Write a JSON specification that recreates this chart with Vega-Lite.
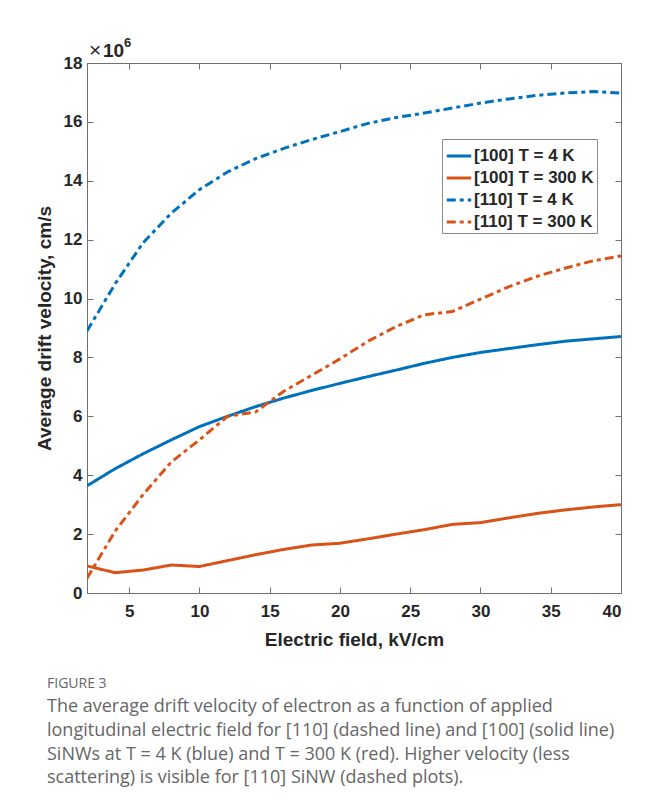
{
  "$schema": "https://vega.github.io/schema/vega-lite/v6.json",
  "width": 534,
  "height": 530,
  "autosize": "none",
  "padding": {"left": 87, "top": 63, "right": 37, "bottom": 216},
  "background": "white",
  "config": {"view": {"stroke": null}, "font": "Liberation Sans"},
  "title": {
    "text": "FIGURE 3",
    "subtitle": [
      "The average drift velocity of electron as a function of applied",
      "longitudinal electric field for [110] (dashed line) and [100] (solid line)",
      "SiNWs at T = 4 K (blue) and T = 300 K (red). Higher velocity (less",
      "scattering) is visible for [110] SiNW (dashed plots)."
    ],
    "orient": "bottom",
    "anchor": "start",
    "frame": "group",
    "dx": -40,
    "offset": 28,
    "font": "Open Sans",
    "fontSize": 14,
    "fontWeight": "normal",
    "color": "#666666",
    "subtitleFont": "Open Sans",
    "subtitleFontSize": 18,
    "subtitleColor": "#666666",
    "subtitleLineHeight": 23.8,
    "subtitlePadding": 7
  },
  "data": {
    "values": [
      {"E": 2, "v": 3.64, "s": "[100] T = 4 K"},
      {"E": 4, "v": 4.22, "s": "[100] T = 4 K"},
      {"E": 6, "v": 4.73, "s": "[100] T = 4 K"},
      {"E": 8, "v": 5.2, "s": "[100] T = 4 K"},
      {"E": 10, "v": 5.65, "s": "[100] T = 4 K"},
      {"E": 12, "v": 6.0, "s": "[100] T = 4 K"},
      {"E": 14, "v": 6.33, "s": "[100] T = 4 K"},
      {"E": 16, "v": 6.62, "s": "[100] T = 4 K"},
      {"E": 18, "v": 6.88, "s": "[100] T = 4 K"},
      {"E": 20, "v": 7.12, "s": "[100] T = 4 K"},
      {"E": 22, "v": 7.35, "s": "[100] T = 4 K"},
      {"E": 24, "v": 7.57, "s": "[100] T = 4 K"},
      {"E": 26, "v": 7.8, "s": "[100] T = 4 K"},
      {"E": 28, "v": 8.0, "s": "[100] T = 4 K"},
      {"E": 30, "v": 8.17, "s": "[100] T = 4 K"},
      {"E": 32, "v": 8.3, "s": "[100] T = 4 K"},
      {"E": 34, "v": 8.43, "s": "[100] T = 4 K"},
      {"E": 36, "v": 8.55, "s": "[100] T = 4 K"},
      {"E": 38, "v": 8.63, "s": "[100] T = 4 K"},
      {"E": 40, "v": 8.71, "s": "[100] T = 4 K"},
      {"E": 2, "v": 0.92, "s": "[100] T = 300 K"},
      {"E": 4, "v": 0.69, "s": "[100] T = 300 K"},
      {"E": 6, "v": 0.78, "s": "[100] T = 300 K"},
      {"E": 8, "v": 0.95, "s": "[100] T = 300 K"},
      {"E": 10, "v": 0.9, "s": "[100] T = 300 K"},
      {"E": 12, "v": 1.1, "s": "[100] T = 300 K"},
      {"E": 14, "v": 1.3, "s": "[100] T = 300 K"},
      {"E": 16, "v": 1.48, "s": "[100] T = 300 K"},
      {"E": 18, "v": 1.63, "s": "[100] T = 300 K"},
      {"E": 20, "v": 1.69, "s": "[100] T = 300 K"},
      {"E": 22, "v": 1.84, "s": "[100] T = 300 K"},
      {"E": 24, "v": 2.0, "s": "[100] T = 300 K"},
      {"E": 26, "v": 2.15, "s": "[100] T = 300 K"},
      {"E": 28, "v": 2.33, "s": "[100] T = 300 K"},
      {"E": 30, "v": 2.39, "s": "[100] T = 300 K"},
      {"E": 32, "v": 2.55, "s": "[100] T = 300 K"},
      {"E": 34, "v": 2.7, "s": "[100] T = 300 K"},
      {"E": 36, "v": 2.82, "s": "[100] T = 300 K"},
      {"E": 38, "v": 2.92, "s": "[100] T = 300 K"},
      {"E": 40, "v": 3.0, "s": "[100] T = 300 K"},
      {"E": 2, "v": 8.9, "s": "[110] T = 4 K"},
      {"E": 4, "v": 10.5, "s": "[110] T = 4 K"},
      {"E": 6, "v": 11.9, "s": "[110] T = 4 K"},
      {"E": 8, "v": 12.9, "s": "[110] T = 4 K"},
      {"E": 10, "v": 13.7, "s": "[110] T = 4 K"},
      {"E": 12, "v": 14.3, "s": "[110] T = 4 K"},
      {"E": 14, "v": 14.75, "s": "[110] T = 4 K"},
      {"E": 16, "v": 15.1, "s": "[110] T = 4 K"},
      {"E": 18, "v": 15.4, "s": "[110] T = 4 K"},
      {"E": 20, "v": 15.67, "s": "[110] T = 4 K"},
      {"E": 22, "v": 15.95, "s": "[110] T = 4 K"},
      {"E": 24, "v": 16.15, "s": "[110] T = 4 K"},
      {"E": 26, "v": 16.3, "s": "[110] T = 4 K"},
      {"E": 28, "v": 16.47, "s": "[110] T = 4 K"},
      {"E": 30, "v": 16.64, "s": "[110] T = 4 K"},
      {"E": 32, "v": 16.78, "s": "[110] T = 4 K"},
      {"E": 34, "v": 16.9, "s": "[110] T = 4 K"},
      {"E": 36, "v": 16.98, "s": "[110] T = 4 K"},
      {"E": 38, "v": 17.03, "s": "[110] T = 4 K"},
      {"E": 40, "v": 16.98, "s": "[110] T = 4 K"},
      {"E": 2, "v": 0.5, "s": "[110] T = 300 K"},
      {"E": 4, "v": 2.1, "s": "[110] T = 300 K"},
      {"E": 6, "v": 3.35, "s": "[110] T = 300 K"},
      {"E": 8, "v": 4.45, "s": "[110] T = 300 K"},
      {"E": 10, "v": 5.2, "s": "[110] T = 300 K"},
      {"E": 12, "v": 6.0, "s": "[110] T = 300 K"},
      {"E": 14, "v": 6.15, "s": "[110] T = 300 K"},
      {"E": 16, "v": 6.85, "s": "[110] T = 300 K"},
      {"E": 18, "v": 7.4, "s": "[110] T = 300 K"},
      {"E": 20, "v": 7.95, "s": "[110] T = 300 K"},
      {"E": 22, "v": 8.55, "s": "[110] T = 300 K"},
      {"E": 24, "v": 9.05, "s": "[110] T = 300 K"},
      {"E": 26, "v": 9.45, "s": "[110] T = 300 K"},
      {"E": 28, "v": 9.56, "s": "[110] T = 300 K"},
      {"E": 30, "v": 9.98, "s": "[110] T = 300 K"},
      {"E": 32, "v": 10.4, "s": "[110] T = 300 K"},
      {"E": 34, "v": 10.75, "s": "[110] T = 300 K"},
      {"E": 36, "v": 11.03, "s": "[110] T = 300 K"},
      {"E": 38, "v": 11.28, "s": "[110] T = 300 K"},
      {"E": 40, "v": 11.45, "s": "[110] T = 300 K"}
    ]
  },
  "layer": [
    {
      "mark": {"type": "line", "strokeWidth": 3, "clip": true},
      "encoding": {
        "x": {
          "field": "E", "type": "quantitative",
          "scale": {"domain": [2, 40], "nice": false, "zero": false},
          "axis": {
            "orient": "bottom", "values": [5, 10, 15, 20, 25, 30, 35, 40],
            "title": "Electric field, kV/cm",
            "grid": false, "tickSize": -6, "tickColor": "#707070", "domainColor": "#707070",
            "labelFont": "Liberation Sans", "labelFontWeight": "bold", "labelFontSize": 17, "labelColor": "#262626",
            "labelPadding": 16,
            "titleFont": "Liberation Sans", "titleFontWeight": "bold", "titleFontSize": 19, "titleColor": "#262626",
            "titlePadding": 11
          }
        },
        "y": {
          "field": "v", "type": "quantitative",
          "scale": {"domain": [0, 18], "nice": false},
          "axis": {
            "orient": "left", "values": [0, 2, 4, 6, 8, 10, 12, 14, 16, 18],
            "title": "Average drift velocity, cm/s",
            "grid": false, "tickSize": -6, "tickColor": "#707070", "domainColor": "#707070",
            "labelFont": "Liberation Sans", "labelFontWeight": "bold", "labelFontSize": 17, "labelColor": "#262626",
            "labelPadding": 11,
            "titleFont": "Liberation Sans", "titleFontWeight": "bold", "titleFontSize": 19, "titleColor": "#262626",
            "titlePadding": 9
          }
        },
        "color": {
          "field": "s", "type": "nominal",
          "scale": {
            "domain": ["[100] T = 4 K", "[100] T = 300 K", "[110] T = 4 K", "[110] T = 300 K"],
            "range": ["#0072BD", "#D95319", "#0072BD", "#D95319"]
          },
          "legend": {
            "title": null, "orient": "none", "legendX": 355, "legendY": 76,
            "symbolType": "stroke", "symbolSize": 600, "symbolStrokeWidth": 3,
            "labelFont": "Liberation Sans", "labelFontWeight": "bold", "labelFontSize": 17, "labelColor": "#262626",
            "labelOffset": 1, "rowPadding": 0, "padding": 3,
            "strokeColor": "#888888", "fillColor": "white"
          }
        },
        "strokeDash": {
          "field": "s", "type": "nominal",
          "scale": {
            "domain": ["[100] T = 4 K", "[100] T = 300 K", "[110] T = 4 K", "[110] T = 300 K"],
            "range": [[1, 0], [1, 0], [9, 4, 4, 4], [9, 4, 4, 4]]
          },
          "legend": null
        }
      }
    },
    {
      "data": {"values": [{}]},
      "mark": {"type": "text", "text": "×", "align": "left", "baseline": "alphabetic", "dx": 2, "dy": -6, "fontSize": 21, "font": "Liberation Sans", "color": "#262626"},
      "encoding": {
        "x": {"datum": 2, "type": "quantitative", "axis": {"orient": "top", "values": [5, 10, 15, 20, 25, 30, 35, 40], "labels": false, "title": null, "grid": false, "tickSize": -6, "tickColor": "#707070", "domainColor": "#707070"}},
        "y": {"datum": 18, "type": "quantitative", "axis": {"orient": "right", "values": [0, 2, 4, 6, 8, 10, 12, 14, 16, 18], "labels": false, "title": null, "grid": false, "tickSize": -6, "tickColor": "#707070", "domainColor": "#707070"}}
      }
    },
    {
      "data": {"values": [{}]},
      "mark": {"type": "text", "text": "10", "align": "left", "baseline": "alphabetic", "dx": 16, "dy": -6, "fontSize": 19, "fontWeight": "bold", "font": "Liberation Sans", "color": "#262626"},
      "encoding": {
        "x": {"datum": 2, "type": "quantitative", "axis": null},
        "y": {"datum": 18, "type": "quantitative", "axis": null}
      }
    },
    {
      "data": {"values": [{}]},
      "mark": {"type": "text", "text": "6", "align": "left", "baseline": "alphabetic", "dx": 37, "dy": -16, "fontSize": 13, "fontWeight": "bold", "font": "Liberation Sans", "color": "#262626"},
      "encoding": {
        "x": {"datum": 2, "type": "quantitative", "axis": null},
        "y": {"datum": 18, "type": "quantitative", "axis": null}
      }
    }
  ],
  "resolve": {"axis": {"x": "independent", "y": "independent"}}
}
